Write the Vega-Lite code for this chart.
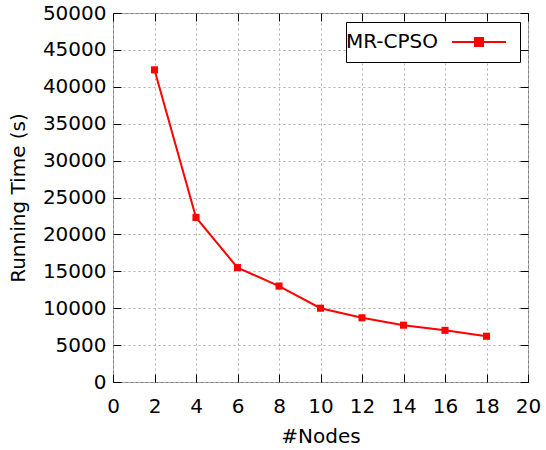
{
  "$schema": "https://vega.github.io/schema/vega-lite/v6.json",
  "width": 415,
  "height": 369,
  "autosize": {"type": "none"},
  "padding": {"left": 113, "top": 13, "right": 18, "bottom": 68},
  "background": "white",
  "config": {
    "font": "DejaVu Sans",
    "view": {"stroke": "#808080", "strokeWidth": 1},
    "axis": {
      "domain": false,
      "labelFont": "DejaVu Sans",
      "labelFontSize": 20,
      "labelColor": "#000000",
      "labelFlush": false,
      "titleFont": "DejaVu Sans",
      "titleFontSize": 20,
      "titleFontWeight": "normal",
      "titleColor": "#000000",
      "tickColor": "#000000",
      "tickSize": -8,
      "tickWidth": 1,
      "gridColor": "#b0b0b0",
      "gridDash": [2, 3],
      "gridOpacity": 1,
      "gridWidth": 1
    }
  },
  "data": {
    "values": [
      {"nodes": 2, "time": 42300, "series": "MR-CPSO"},
      {"nodes": 4, "time": 22300, "series": "MR-CPSO"},
      {"nodes": 6, "time": 15500, "series": "MR-CPSO"},
      {"nodes": 8, "time": 13000, "series": "MR-CPSO"},
      {"nodes": 10, "time": 10000, "series": "MR-CPSO"},
      {"nodes": 12, "time": 8700, "series": "MR-CPSO"},
      {"nodes": 14, "time": 7700, "series": "MR-CPSO"},
      {"nodes": 16, "time": 7000, "series": "MR-CPSO"},
      {"nodes": 18, "time": 6200, "series": "MR-CPSO"}
    ]
  },
  "layer": [
    {
      "mark": {
        "type": "line",
        "strokeWidth": 2,
        "point": {"shape": "square", "size": 50, "filled": true, "color": "#ff0000"}
      },
      "encoding": {
        "x": {
          "field": "nodes",
          "type": "quantitative",
          "scale": {"domain": [0, 20], "nice": false, "zero": false},
          "axis": {
            "title": "#Nodes",
            "values": [0, 2, 4, 6, 8, 10, 12, 14, 16, 18, 20],
            "grid": true,
            "labelPadding": 22,
            "titlePadding": 10
          }
        },
        "y": {
          "field": "time",
          "type": "quantitative",
          "scale": {"domain": [0, 50000], "nice": false},
          "axis": {
            "title": "Running Time (s)",
            "values": [0, 5000, 10000, 15000, 20000, 25000, 30000, 35000, 40000, 45000, 50000],
            "grid": true,
            "format": "d",
            "labelPadding": 15,
            "titlePadding": 14
          }
        },
        "color": {
          "field": "series",
          "type": "nominal",
          "scale": {"range": ["#ff0000"]},
          "legend": {
            "orient": "none",
            "legendX": 233,
            "legendY": 9,
            "title": null,
            "padding": 10,
            "strokeColor": "#000000",
            "fillColor": "#ffffff",
            "labelFont": "DejaVu Sans",
            "labelFontSize": 20,
            "labelColor": "#000000",
            "labelOffset": -30,
            "symbolType": "M86,0H140M109,-4H117V4H109Z",
            "symbolSize": 4,
            "symbolStrokeWidth": 2,
            "symbolFillColor": "#ff0000",
            "symbolStrokeColor": "#ff0000"
          }
        }
      }
    },
    {
      "mark": {"type": "point", "opacity": 0},
      "encoding": {
        "x": {
          "field": "nodes",
          "type": "quantitative",
          "scale": {"domain": [0, 20], "nice": false, "zero": false},
          "axis": {
            "orient": "top",
            "labels": false,
            "grid": false,
            "title": null,
            "values": [0, 2, 4, 6, 8, 10, 12, 14, 16, 18, 20]
          }
        },
        "y": {
          "field": "time",
          "type": "quantitative",
          "scale": {"domain": [0, 50000], "nice": false},
          "axis": {
            "orient": "right",
            "labels": false,
            "grid": false,
            "title": null,
            "values": [0, 5000, 10000, 15000, 20000, 25000, 30000, 35000, 40000, 45000, 50000]
          }
        }
      }
    }
  ],
  "resolve": {"axis": {"x": "independent", "y": "independent"}}
}
